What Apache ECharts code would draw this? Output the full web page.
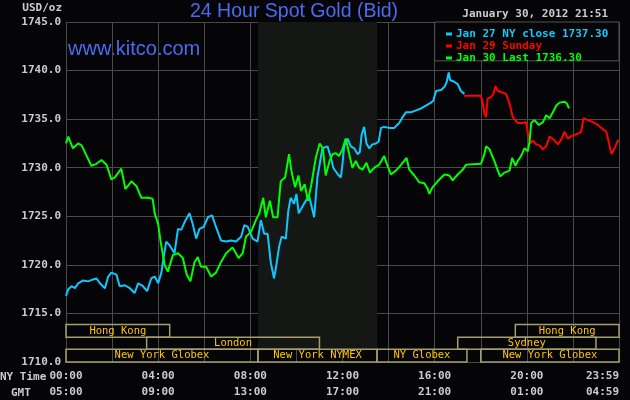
<!DOCTYPE html>
<html>
<head>
<meta charset="utf-8">
<script src="https://cdn.jsdelivr.net/npm/echarts@6/dist/echarts.min.js"></script>
<style>html,body{margin:0;padding:0;background:#050407;}#chart{width:630px;height:400px;}</style>
</head>
<body>
<div id="chart"></div>
<script>
// ---- Data (hours since 00:00 NY time, price USD/oz) ----
const blueName = 'Jan 27 NY close 1737.30';
const redName = 'Jan 29 Sunday';
const greenName = 'Jan 30 Last 1736.30';

const blueTimes = [0,0.1,0.24,0.39,0.53,0.75,0.97,1.18,1.33,1.47,1.69,1.83,1.97,2.19,2.33,2.55,2.77,2.98,3.13,3.34,3.52,3.7,3.85,4.0,4.14,4.24,4.35,4.5,4.71,4.86,5.0,5.19,5.36,5.5,5.65,5.79,5.97,6.16,6.34,6.51,6.73,6.95,7.16,7.38,7.6,7.74,7.89,8.1,8.31,8.46,8.6,8.75,8.89,9.03,9.13,9.25,9.36,9.54,9.65,9.75,9.9,10.0,10.1,10.33,10.55,10.77,10.91,11.13,11.35,11.5,11.6,11.68,11.8,11.93,12.0,12.07,12.22,12.36,12.51,12.65,12.75,12.83,12.94,13.04,13.16,13.3,13.45,13.57,13.67,13.81,14.03,14.25,14.46,14.58,14.75,14.97,15.19,15.41,15.62,15.84,15.94,16.06,16.28,16.42,16.52,16.61,16.67,16.81,17.0,17.14,17.29];
const bluePrices = [1716.8,1717.5,1717.8,1717.6,1718.1,1718.4,1718.3,1718.5,1718.6,1718.1,1717.6,1718.8,1719.2,1719.0,1717.8,1717.9,1717.6,1717.1,1718.1,1717.8,1717.3,1718.6,1718.8,1718.1,1719.2,1720.8,1722.4,1722.0,1721.2,1723.7,1723.6,1724.6,1725.3,1724.2,1722.7,1723.7,1723.9,1724.9,1725.1,1723.9,1722.5,1722.4,1722.5,1722.4,1722.9,1724.1,1723.9,1722.7,1722.4,1724.6,1723.2,1723.2,1720.2,1718.6,1720.0,1721.9,1722.9,1722.7,1725.6,1726.9,1726.3,1727.3,1725.3,1726.3,1727.1,1724.9,1729.0,1732.0,1732.2,1731.0,1730.0,1729.8,1729.3,1729.0,1730.4,1732.2,1733.0,1732.2,1732.0,1731.4,1731.6,1733.4,1734.2,1732.5,1732.0,1732.4,1732.5,1732.7,1734.1,1734.2,1734.1,1734.1,1734.6,1735.1,1735.7,1735.7,1735.9,1736.1,1736.4,1736.7,1736.9,1737.9,1738.0,1738.3,1738.8,1739.8,1739.0,1738.9,1738.6,1737.9,1737.6];

const redTimes = [17.26,18.01,18.09,18.16,18.23,18.3,18.45,18.55,18.64,18.74,18.88,19.1,19.25,19.39,19.61,19.83,19.97,20.07,20.14,20.26,20.41,20.55,20.7,20.84,20.99,21.16,21.35,21.49,21.64,21.78,21.97,22.22,22.36,22.46,22.65,22.87,23.09,23.23,23.45,23.57,23.67,23.77,23.88,23.97];
const redPrices = [1737.4,1737.4,1736.6,1735.6,1735.2,1737.1,1737.3,1737.6,1738.4,1737.9,1737.8,1737.6,1736.6,1735.2,1734.6,1734.6,1734.7,1733.2,1732.5,1732.8,1732.4,1732.3,1731.9,1732.2,1733.2,1732.9,1732.4,1732.9,1733.7,1733.0,1733.3,1733.5,1733.7,1735.1,1734.9,1734.7,1734.4,1734.1,1733.7,1732.5,1731.4,1731.8,1732.4,1732.9];

const greenTimes = [0,0.1,0.3,0.53,0.68,0.9,1.1,1.32,1.54,1.76,1.97,2.12,2.4,2.58,2.84,3.06,3.27,3.56,3.76,3.85,4.0,4.1,4.28,4.42,4.64,4.86,5.07,5.24,5.4,5.58,5.72,5.86,6.08,6.3,6.51,6.73,6.95,7.23,7.49,7.67,7.81,8.03,8.24,8.39,8.56,8.67,8.85,8.99,9.18,9.32,9.51,9.68,9.78,9.94,10.09,10.2,10.36,10.5,10.65,10.84,11.01,11.15,11.27,11.44,11.57,11.71,11.85,12.0,12.14,12.2,12.33,12.43,12.58,12.72,12.87,13.04,13.19,13.38,13.59,13.81,13.91,14.1,14.32,14.54,14.78,14.9,15.12,15.33,15.55,15.7,15.77,15.91,16.13,16.42,16.64,16.78,17.0,17.22,17.36,18.01,18.16,18.23,18.38,18.59,18.74,18.84,19.03,19.25,19.36,19.51,19.61,19.75,19.9,20.04,20.12,20.19,20.33,20.52,20.7,20.84,20.99,21.13,21.28,21.42,21.64,21.74,21.83];
const greenPrices = [1732.5,1733.2,1732.0,1732.5,1732.3,1731.2,1730.2,1730.4,1730.8,1730.3,1728.8,1729.0,1729.9,1727.8,1728.6,1728.1,1726.9,1726.9,1726.8,1725.3,1724.2,1722.5,1720.0,1719.3,1721.0,1721.2,1720.7,1719.0,1718.3,1720.3,1720.8,1719.8,1719.8,1718.8,1719.2,1720.3,1721.2,1721.8,1720.7,1721.2,1722.9,1723.4,1724.6,1725.3,1726.9,1724.9,1726.6,1724.9,1724.9,1728.6,1729.0,1731.4,1729.7,1728.0,1729.2,1727.6,1728.3,1726.6,1728.3,1731.0,1732.5,1732.0,1729.2,1730.7,1731.4,1731.5,1731.2,1731.9,1733.0,1732.9,1731.0,1730.0,1730.7,1730.0,1729.8,1730.5,1729.5,1730.0,1730.3,1731.2,1730.5,1729.3,1729.7,1730.3,1731.0,1729.8,1729.2,1728.5,1728.4,1727.8,1727.3,1728.0,1728.6,1729.3,1729.2,1728.7,1729.3,1729.8,1730.3,1730.4,1731.4,1732.2,1731.9,1730.7,1729.7,1729.1,1729.5,1729.7,1731.0,1730.2,1730.7,1731.2,1732.0,1731.7,1732.7,1734.6,1734.9,1734.4,1734.7,1735.4,1735.1,1735.7,1736.4,1736.7,1736.8,1736.6,1736.1];

// axis tick labels (every 4 hours)
const nyTickLabels = ['00:00','04:00','08:00','12:00','16:00','20:00','23:59'];
const gmtTickLabels = ['05:00','09:00','13:00','17:00','21:00','01:00','04:59'];

// market sessions: [label, row (0 top .. 2 bottom), start hour, end hour]
const sessionNames = ['Hong Kong','Hong Kong','London','Sydney','New York Globex','New York NYMEX','NY Globex','New York Globex'];
const sessionRows  = [0,0,1,1,2,2,2,2];
const sessionStart = [0,19.5,3.5,17,0,8.333,13.5,18];
const sessionEnd   = [4.5,24,11,23,8.333,13.5,17.4,24];

// NYMEX trading hours (shaded)
const nymexOpen = 8.333, nymexClose = 13.5;

// ---- Chart ----
const mono = 'DejaVu Sans Mono';
const grey = '#cccccc';
const gridCol = '#4a4a4a';
const rowBounds = [[1712.55,1713.85],[1711.3,1712.55],[1710,1711.3]];

const pairs = (t, v) => t.map((x, i) => [x, v[i]]);

const sessionAreas = sessionNames.map((n, i) => [
  { name: n, xAxis: sessionStart[i], yAxis: rowBounds[sessionRows[i]][0] },
  { xAxis: sessionEnd[i], yAxis: rowBounds[sessionRows[i]][1] }
]);

const chart = echarts.init(document.getElementById('chart'), null, { renderer: 'canvas' });
chart.setOption({
  backgroundColor: '#050407',
  animation: false,
  grid: { left: 66, top: 22, width: 553, height: 345, containLabel: false },
  xAxis: {
    type: 'value', min: 0, max: 24, interval: 2,
    axisLine: { show: true, lineStyle: { color: gridCol } },
    axisTick: { show: false },
    splitLine: { show: true, lineStyle: { color: gridCol, width: 1 } },
    axisLabel: {
      showMaxLabel: true, showMinLabel: true, alignMaxLabel: 'right',
      margin: 6, color: grey, fontFamily: mono, fontSize: 11, fontWeight: 'bold', lineHeight: 16,
      formatter: v => {
        if (v % 4 !== 0 && v !== 24) return '';
        const i = Math.round(v / 4);
        return nyTickLabels[i] + '\n' + gmtTickLabels[i];
      }
    }
  },
  yAxis: {
    type: 'value', min: 1710, max: 1745, interval: 5,
    axisLine: { show: true, lineStyle: { color: gridCol } },
    axisTick: { show: false },
    splitLine: { show: true, lineStyle: { color: gridCol, width: 1 } },
    axisLabel: { margin: 5, color: grey, fontFamily: mono, fontSize: 11, fontWeight: 'bold', formatter: v => v.toFixed(1) }
  },
  legend: {
    orient: 'vertical', left: 441, top: 23, itemWidth: 6, itemHeight: 3, itemGap: 0,
    icon: 'rect', selectedMode: false, z: 10,
    textStyle: { fontFamily: mono, fontSize: 11, fontWeight: 'bold', lineHeight: 12, padding: [0,0,0,-1] },
    data: [
      { name: blueName, textStyle: { color: '#10c8ff' } },
      { name: redName, textStyle: { color: '#ff0000' } },
      { name: greenName, textStyle: { color: '#00ff00' } }
    ]
  },
  graphic: [
    { type: 'text', left: 190, top: 1.5, style: { text: '24 Hour Spot Gold (Bid)', fill: '#4a6cf2', font: '19.5px "Liberation Sans", Arial, sans-serif' } },
    { type: 'text', left: 68, top: 39, style: { text: 'www.kitco.com', fill: '#4a6cf2', font: '20px "Liberation Sans", Arial, sans-serif' } },
    { type: 'text', right: 568, top: 3, style: { text: 'USD/oz', fill: grey, font: 'bold 11px "DejaVu Sans Mono"' } },
    { type: 'text', right: 22, top: 9, style: { text: 'January 30, 2012 21:51', fill: grey, font: 'bold 11px "DejaVu Sans Mono"' } },
    { type: 'text', left: 0, top: 372, style: { text: 'NY Time', fill: grey, font: 'bold 11px "DejaVu Sans Mono"' } },
    { type: 'text', left: 11, top: 388, style: { text: 'GMT', fill: grey, font: 'bold 11px "DejaVu Sans Mono"' } }
  ],
  series: [
    {
      name: 'nymex', type: 'line', data: [], z: -1, silent: true,
      markArea: { silent: true, itemStyle: { color: '#141714' },
        data: [[{ xAxis: nymexOpen, yAxis: 1711.3 }, { xAxis: nymexClose, yAxis: 1745 }]] }
    },
    {
      name: 'sessions', type: 'line', data: [], z: 3, silent: true,
      markArea: { silent: true,
        itemStyle: { color: 'rgba(0,0,0,0)', borderColor: '#a39e6e', borderWidth: 1.5 },
        label: { show: true, position: 'inside', color: '#ffc800', fontFamily: mono, fontSize: 10.5 },
        data: sessionAreas }
    },
    {
      name: 'legendbox', type: 'line', data: [], z: 8, silent: true,
      markArea: { silent: true, itemStyle: { color: '#050407', borderColor: '#555555', borderWidth: 1 },
        data: [[{ xAxis: 16, yAxis: 1741 }, { xAxis: 24, yAxis: 1745 }]] }
    },
    { name: blueName, type: 'line', data: pairs(blueTimes, bluePrices), showSymbol: false, color: '#10c8ff', lineStyle: { width: 2 }, z: 4 },
    { name: redName, type: 'line', data: pairs(redTimes, redPrices), showSymbol: false, color: '#ff0000', lineStyle: { width: 2 }, z: 4 },
    { name: greenName, type: 'line', data: pairs(greenTimes, greenPrices), showSymbol: false, color: '#00ff00', lineStyle: { width: 2 }, z: 4 }
  ]
});
</script>
</body>
</html>
